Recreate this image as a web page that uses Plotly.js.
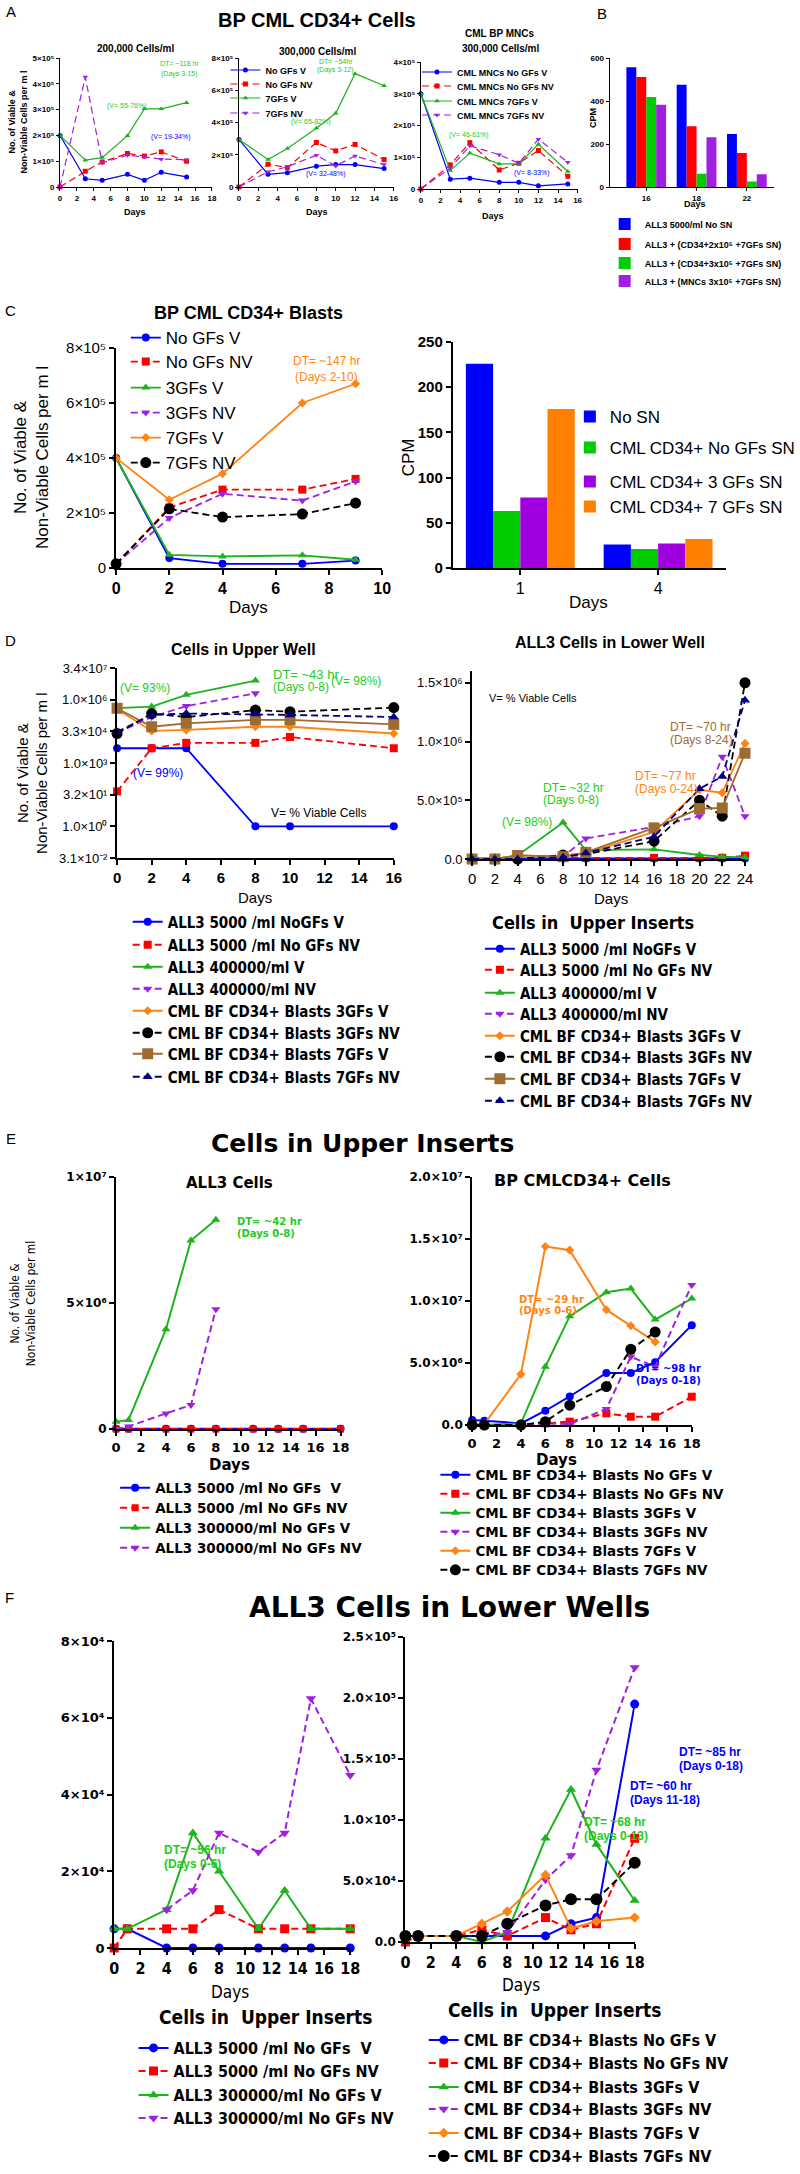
<!DOCTYPE html>
<html><head><meta charset="utf-8">
<script src="https://cdn.plot.ly/plotly-3.0.1.min.js"></script>
<style>html,body{margin:0;padding:0;background:#fff}#chart{width:800px;height:2174px}</style>
</head><body><div id="chart"></div>
<script>
// ================= DATA =================
// Panel A
const daysA = [0,3,5,8,10,12,15];
const a1NoGFsV  = [200000, 32000, 26000, 49000, 26000, 57000, 39000];
const a1NoGFsNV = [0, 61000, 97000, 130000, 120000, 136000, 100000];
const a1GF7V    = [200000, 104000, 114000, 199000, 303000, 303000, 327000];
const a1GF7NV   = [0, 426000, 94000, 123000, 117000, 108000, 106000];
const a2NoGFsV  = [295000, 79000, 89000, 129000, 139000, 139000, 114000];
const a2NoGFsNV = [0, 141000, 120000, 276000, 224000, 264000, 170000];
const a2GF7V    = [295000, 170000, 239000, 364000, 457000, 703000, 628000];
const a2GF7NV   = [0, 94000, 125000, 197000, 131000, 193000, 139000];
const a3NoGFsV  = [300000, 31000, 34000, 21000, 21000, 10000, 16000];
const a3NoGFsNV = [0, 76000, 146000, 60000, 81000, 121000, 40000];
const a3GF7V    = [300000, 58000, 113000, 79000, 79000, 141000, 55000];
const a3GF7NV   = [0, 66000, 136000, 108000, 81000, 157000, 84000];
const namesA2 = ['No GFs V','No GFs NV','7GFs V','7GFs NV'];
const namesA3 = ['CML MNCs No GFs V','CML MNCs No GFs NV','CML MNCs 7GFs V','CML MNCs 7GFs NV'];
// Panel B
const catsB = ['16','18','22'];
const bNoSN   = [557, 476, 246];
const bCD34x2 = [512, 282, 158];
const bCD34x3 = [419, 62, 26];
const bMNCx3  = [383, 231, 59];
const namesB = ['ALL3 5000/ml No SN','ALL3 + (CD34+2x10⁵ +7GFs SN)','ALL3 + (CD34+3x10⁵ +7GFs SN)','ALL3 + (MNCs 3x10⁵ +7GFs SN)'];
// Panel C
const daysC = [0,2,4,7,9];
const cNoGFsV  = [400000, 36000, 15000, 15000, 27000];
const cNoGFsNV = [15000, 220000, 285000, 285000, 324000];
const cGF3V    = [400000, 48000, 42000, 46000, 30000];
const cGF3NV   = [15000, 182000, 270000, 245000, 315000];
const cGF7V    = [400000, 248000, 343000, 600000, 670000];
const cGF7NV   = [15000, 215000, 185000, 196000, 236000];
const namesC1 = ['No GFs V','No GFs NV','3GFs V','3GFs NV','7GFs V','7GFs NV'];
const catsC2 = ['1','4'];
const c2NoSN  = [226, 26];
const c2NoGFs = [63, 21];
const c2GF3   = [78, 27];
const c2GF7   = [176, 32];
const namesC2 = ['No SN','CML CD34+ No GFs SN','CML CD34+ 3 GFs SN','CML CD34+ 7 GFs SN'];
// Panel D
const daysD1 = [0,2,4,8,10,16];
const daysD1b = [0,2,4,8];
const d1A5000V  = [5000, 5000, 5000, 1, 1, 1];
const d1A5000NV = [45, 5000, 9000, 9000, 17000, 5000];
const d1A400kV  = [400000, 470000, 1700000, 8000000];
const d1A400kNV = [27000, 150000, 500000, 2000000];
const d1GF3V    = [350000, 33000, 37000, 52000, 52000, 25000];
const d1GF3NV   = [25000, 220000, 150000, 320000, 270000, 420000];
const d1GF7V    = [390000, 52000, 76000, 110000, 110000, 68000];
const d1GF7NV   = [30000, 190000, 220000, 210000, 190000, 150000];
const daysD2 = [0,2,4,8,10,16,20,22,24];
const d2A5000V  = [5000, 5000, 5000, 5000, 5000, 5000, 5000, 5000, 5000];
const d2A5000NV = [0, 0, 0, 20000, 10000, 10000, 10000, 10000, 28000];
const d2A400kV  = [0, 0, 30000, 310000, 76000, 82000, 34000, 20000, 14000];
const d2A400kNV = [0, 0, 0, 20000, 175000, 273000, 364000, 871000, 364000];
const d2GF3V    = [0, 0, 30000, 20000, 48000, 231000, 589000, 564000, 984000];
const d2GF3NV   = [0, 0, 0, 34000, 40000, 152000, 500000, 364000, 1500000];
const d2GF7V    = [0, 0, 30000, 20000, 56000, 265000, 429000, 434000, 900000];
const d2GF7NV   = [0, 0, 0, 15000, 50000, 190000, 598000, 702000, 1350000];
const namesD = ['ALL3 5000 /ml NoGFs V','ALL3 5000 /ml No GFs NV','ALL3 400000/ml V','ALL3 400000/ml NV','CML BF CD34+ Blasts 3GFs V','CML BF CD34+ Blasts 3GFs NV','CML BF CD34+ Blasts 7GFs V','CML BF CD34+ Blasts 7GFs NV'];
// Panel E
const daysE = [0,1,4,6,8,11,13,15,18];
const daysE8 = [0,1,4,6,8];
const daysE15 = [0,1,4,6,8,11,13,15];
const e1A5000V  = [5000, 5000, 5000, 5000, 5000, 5000, 5000, 5000, 5000];
const e1A5000NV = [0, 0, 0, 0, 0, 0, 0, 0, 0];
const e1A300kV  = [290000, 360000, 3960000, 7480000, 8300000];
const e1A300kNV = [0, 100000, 620000, 950000, 4750000];
const e2NoGFsV  = [400000, 350000, 130000, 1150000, 2300000, 4200000, 4200000, 5070000, 8050000];
const e2NoGFsNV = [0, 0, 0, 130000, 270000, 940000, 670000, 670000, 2280000];
const e2GF3V    = [0, 0, 130000, 4700000, 8780000, 10700000, 11000000, 8500000, 10200000];
const e2GF3NV   = [0, 0, 0, 130000, 80000, 1300000, 5500000, 4700000, 11300000];
const e2GF7V    = [0, 80000, 4100000, 14400000, 14100000, 9300000, 8000000, 6700000];
const e2GF7NV   = [0, 0, 0, 270000, 1600000, 3100000, 6100000, 7500000];
const namesEF1 = ['ALL3 5000 /ml No GFs  V','ALL3 5000 /ml No GFs NV','ALL3 300000/ml No GFs V','ALL3 300000/ml No GFs NV'];
const namesEF2 = ['CML BF CD34+ Blasts No GFs V','CML BF CD34+ Blasts No GFs NV','CML BF CD34+ Blasts 3GFs V','CML BF CD34+ Blasts 3GFs NV','CML BF CD34+ Blasts 7GFs V','CML BF CD34+ Blasts 7GFs NV'];
// Panel F
const daysF = [0,1,4,6,8,11,13,15,18];
const daysF4 = [4,6,8,11,13,15,18];
const f1A5000V  = [5000, 5000, 0, 0, 0, 0, 0, 0, 0];
const f1A5000NV = [0, 5000, 5000, 5000, 10000, 5000, 5000, 5000, 5000];
const f1A300kV  = [5000, 5000, 10000, 30000, 20000, 5000, 15000, 5000, 5000];
const f1A300kNV = [10000, 15000, 30000, 25000, 30000, 65000, 45000];
const f2NoGFsV  = [5000, 5000, 5000, 5000, 5000, 5000, 15000, 20000, 195000];
const f2NoGFsNV = [0, 5000, 5000, 10000, 5000, 20000, 10000, 15000, 85000];
const f2GF3V    = [5000, 5000, 5000, 0, 8000, 85000, 125000, 80000, 34000];
const f2GF3NV   = [5000, 5000, 5000, 5000, 8000, 51000, 71000, 141000, 225000];
const f2GF7V    = [5000, 5000, 5000, 15000, 25000, 55000, 11000, 17000, 20000];
const f2GF7NV   = [5000, 5000, 5000, 5000, 15000, 30000, 35000, 35000, 65000];
// Tick labels
const tvA1 = [0,1e5,2e5,3e5,4e5,5e5];
const tlA1 = ['0','1×10⁵','2×10⁵','3×10⁵','4×10⁵','5×10⁵'];
const tvA2 = [0,2e5,4e5,6e5,8e5];
const tlA2 = ['0','2×10⁵','4×10⁵','6×10⁵','8×10⁵'];
const tvA3 = [0,1e5,2e5,3e5,4e5];
const tlA3 = ['0','1×10⁵','2×10⁵','3×10⁵','4×10⁵'];
const tvC1 = [0,2e5,4e5,6e5,8e5];
const tlC1 = ['0','2×10⁵','4×10⁵','6×10⁵','8×10⁵'];
const tvD1 = [Math.pow(10,-1.5),1,Math.pow(10,1.5),1e3,Math.pow(10,4.5),1e6,Math.pow(10,7.5)];
const tlD1 = ['3.1×10⁻²','1.0×10⁰','3.2×10¹','1.0×10³','3.3×10⁴','1.0×10⁶','3.4×10⁷'];
const tvD2 = [0,5e5,1e6,1.5e6];
const tlD2 = ['0.0','5.0×10⁵','1.0×10⁶','1.5×10⁶'];
const tvE1 = [0,5e6,1e7];
const tlE1 = ['0','5×10⁶','1×10⁷'];
const tvE2 = [0,5e6,1e7,1.5e7,2e7];
const tlE2 = ['0.0','5.0×10⁶','1.0×10⁷','1.5×10⁷','2.0×10⁷'];
const tvF1 = [0,2e4,4e4,6e4,8e4];
const tlF1 = ['0','2×10⁴','4×10⁴','6×10⁴','8×10⁴'];
const tvF2 = [0,5e4,1e5,1.5e5,2e5,2.5e5];
const tlF2 = ['0.0','5.0×10⁴','1.0×10⁵','1.5×10⁵','2.0×10⁵','2.5×10⁵'];

// ================= BUILD =================
const W = 800, H = 2174;
const FB = 'Liberation Sans, Arial, sans-serif';
const FN = 'Liberation Sans Narrow, DejaVu Sans Condensed, Liberation Sans, sans-serif';
const FK = 'DejaVu Sans, Liberation Sans, sans-serif';
const COL = {blue:'#0000FF', red:'#FF0000', green:'#1DB31D', purple:'#A020E0', orange:'#FF8411', black:'#000000', brown:'#9E6B30', navy:'#000080'};
const DASH = '7px,4px';

const layout = {width:W, height:H, margin:{l:0,r:0,t:0,b:0}, paper_bgcolor:'#fff', plot_bgcolor:'rgba(0,0,0,0)', showlegend:true, bargap:0.21, bargroupgap:0, annotations:[]};
const traces = [];
let nLeg = 0;
function L(textX, y, font){
  nLeg++;
  const key = nLeg === 1 ? 'legend' : 'legend' + nLeg;
  layout[key] = {x:(textX-40)/W, y:1-y/H, xanchor:'left', yanchor:'middle', bgcolor:'rgba(0,0,0,0)', borderwidth:0, font:font, itemclick:false, itemdoubleclick:false};
  return key;
}
function fnt(f,s,b){ return {family:f, size:s, color:'#000', weight:b?'bold':'normal'}; }
function S(xa, ya, xs, ys, name, c, sym, dash, size, w, leg){
  const t = {type:'scatter', mode:'lines+markers', x:xs, y:ys, name:name, xaxis:xa, yaxis:ya, cliponaxis:false,
    line:{color:COL[c], width:w, dash:dash?DASH:'solid'}, marker:{color:COL[c], symbol:sym, size:size, line:{width:0}},
    showlegend:!!leg};
  if(leg) t.legend = leg;
  traces.push(t);
}
function B(xa, ya, xs, ys, name, color, leg){
  traces.push({type:'bar', x:xs, y:ys, name:name, xaxis:xa, yaxis:ya, marker:{color:color, line:{width:0}}, legend:leg, showlegend:true});
}
function XA(x0,x1,anchor,o){ return Object.assign({domain:[x0/W,x1/W], anchor:anchor, showline:true, linecolor:'#000', linewidth:2, ticks:'outside', ticklen:5, tickwidth:2, tickcolor:'#000', showgrid:false, zeroline:false, fixedrange:true, tickfont:fnt(FB,14,true)}, o); }
function YA(yt,yb,anchor,o){ return Object.assign({domain:[1-yb/H,1-yt/H], anchor:anchor, showline:true, linecolor:'#000', linewidth:2, ticks:'outside', ticklen:5, tickwidth:2, tickcolor:'#000', showgrid:false, zeroline:false, fixedrange:true, tickfont:fnt(FB,13,false)}, o); }
function T(x,y,text,size,o){
  o = o || {};
  layout.annotations.push({xref:'paper', yref:'paper', x:x/W, y:1-y/H, text:text, showarrow:false, xanchor:o.a||'center', yanchor:'middle', textangle:o.r||0,
    font:{family:o.f||FB, size:size, color:o.c||'#000', weight:o.b?'bold':'normal'}});
}
const lin = (r,d)=>({range:r, tickmode:'linear', tick0:0, dtick:d});
const thin = {linewidth:1, tickwidth:1, ticklen:3, tickfont:fnt(FB,8,true)};

// ---- Axes ----
layout.xaxis   = XA(62,219,'y',  Object.assign({}, thin, lin([0,18],2)));
layout.yaxis   = YA(58,187,'x',  Object.assign({}, thin, {range:[0,5e5], tickmode:'array', tickvals:tvA1, ticktext:tlA1}));
layout.xaxis2  = XA(247,407,'y2', Object.assign({}, thin, lin([0,16],2)));
layout.yaxis2  = YA(58,187,'x2', Object.assign({}, thin, {range:[0,8e5], tickmode:'array', tickvals:tvA2, ticktext:tlA2}));
layout.xaxis3  = XA(435,597,'y3', Object.assign({}, thin, lin([0,16],2)));
layout.yaxis3  = YA(62,189,'x3', Object.assign({}, thin, {range:[0,4e5], tickmode:'array', tickvals:tvA3, ticktext:tlA3}));
layout.xaxis4  = XA(630,800,'y4', Object.assign({}, thin, {type:'category', range:[-0.73,2.54]}));
layout.yaxis4  = YA(58,187,'x4', Object.assign({}, thin, {range:[0,600], tickmode:'array', tickvals:[0,200,400,600]}));
layout.xaxis5  = XA(120,395,'y5', Object.assign({tickfont:fnt(FB,16,true)}, lin([0,10],2)));
layout.yaxis5  = YA(348,568,'x5', {range:[0,8e5], tickmode:'array', tickvals:tvC1, ticktext:tlC1, tickfont:fnt(FB,15,false)});
layout.xaxis6  = XA(468,750,'y6', {type:'category', range:[-0.49,1.49], tickfont:fnt(FB,16,false)});
layout.yaxis6  = YA(342,568,'x6', {range:[0,250], tickmode:'linear', tick0:0, dtick:50, tickfont:fnt(FB,15,true)});
layout.xaxis7  = XA(121,407,'y7', Object.assign({tickfont:fnt(FB,15,true)}, lin([0,16],2)));
layout.yaxis7  = YA(668,858,'x7', {type:'log', range:[-1.5,7.5], tickmode:'array', tickvals:tvD1, ticktext:tlD1, tickfont:fnt(FB,13,false)});
layout.xaxis8  = XA(488,770,'y8', Object.assign({tickfont:fnt(FB,15,false)}, lin([0,24],2)));
layout.yaxis8  = YA(671,859,'x8', {range:[0,1.6e6], tickmode:'array', tickvals:tvD2, ticktext:tlD2, tickfont:fnt(FB,13,false)});
layout.xaxis9  = XA(120,352,'y9', Object.assign({tickfont:fnt(FK,13,true)}, lin([0,18],2)));
layout.yaxis9  = YA(1177,1429,'x9', {range:[0,1e7], tickmode:'array', tickvals:tvE1, ticktext:tlE1, tickfont:fnt(FK,12,true)});
layout.xaxis10 = XA(488,715,'y10', Object.assign({tickfont:fnt(FK,13,true)}, lin([0,18],2)));
layout.yaxis10 = YA(1177,1425,'x10', {range:[0,2e7], tickmode:'array', tickvals:tvE2, ticktext:tlE2, tickfont:fnt(FK,12,true)});
layout.xaxis11 = XA(118,362,'y11', Object.assign({tickfont:fnt(FN,16,true)}, lin([0,18],2)));
layout.yaxis11 = YA(1641,1948,'x11', {range:[0,8e4], tickmode:'array', tickvals:tvF1, ticktext:tlF1, tickfont:fnt(FK,13,true)});
layout.xaxis12 = XA(419,656,'y12', Object.assign({tickfont:fnt(FN,16,true)}, lin([0,18],2)));
layout.yaxis12 = YA(1637,1942,'x12', {range:[0,2.5e5], tickmode:'array', tickvals:tvF2, ticktext:tlF2, tickfont:fnt(FK,12,true)});

// ---- Panel A traces ----
const fA = fnt(FB,9,true);
S('x','y',daysA,a1NoGFsV,namesA2[0],'blue','circle',false,5,1.2,null);
S('x','y',daysA,a1NoGFsNV,namesA2[1],'red','square',true,5,1.2,null);
S('x','y',daysA,a1GF7V,namesA2[2],'green','triangle-up',false,5,1.2,null);
S('x','y',daysA,a1GF7NV,namesA2[3],'purple','triangle-down',true,5,1.2,null);
const yA2 = [70,84,98,113];
S('x2','y2',daysA,a2NoGFsV,namesA2[0],'blue','circle',false,5,1.2,L(273,yA2[0],fA));
S('x2','y2',daysA,a2NoGFsNV,namesA2[1],'red','square',true,5,1.2,L(273,yA2[1],fA));
S('x2','y2',daysA,a2GF7V,namesA2[2],'green','triangle-up',false,5,1.2,L(273,yA2[2],fA));
S('x2','y2',daysA,a2GF7NV,namesA2[3],'purple','triangle-down',true,5,1.2,L(273,yA2[3],fA));
const yA3 = [72,86,101,115];
S('x3','y3',daysA,a3NoGFsV,namesA3[0],'blue','circle',false,5,1.2,L(471,yA3[0],fA));
S('x3','y3',daysA,a3NoGFsNV,namesA3[1],'red','square',true,5,1.2,L(471,yA3[1],fA));
S('x3','y3',daysA,a3GF7V,namesA3[2],'green','triangle-up',false,5,1.2,L(471,yA3[2],fA));
S('x3','y3',daysA,a3GF7NV,namesA3[3],'purple','triangle-down',true,5,1.2,L(471,yA3[3],fA));

// ---- Panel B ----
const fB = fnt(FB,9,true);
B('x4','y4',catsB,bNoSN,namesB[0],'#0000FF',L(665,224,fB));
B('x4','y4',catsB,bCD34x2,namesB[1],'#FF0000',L(665,244,fB));
B('x4','y4',catsB,bCD34x3,namesB[2],'#00CC00',L(665,263,fB));
B('x4','y4',catsB,bMNCx3,namesB[3],'#A020E0',L(665,281,fB));

// ---- Panel C ----
const fC = fnt(FB,17,false);
const yC1 = [338,362,388,413,438,463];
S('x5','y5',daysC,cNoGFsV,namesC1[0],'blue','circle',false,8,1.8,L(170,yC1[0],fC));
S('x5','y5',daysC,cNoGFsNV,namesC1[1],'red','square',true,8,1.8,L(170,yC1[1],fC));
S('x5','y5',daysC,cGF3V,namesC1[2],'green','triangle-up',false,8,1.8,L(170,yC1[2],fC));
S('x5','y5',daysC,cGF3NV,namesC1[3],'purple','triangle-down',true,8,1.8,L(170,yC1[3],fC));
S('x5','y5',daysC,cGF7V,namesC1[4],'orange','diamond',false,7,1.8,L(170,yC1[4],fC));
S('x5','y5',daysC,cGF7NV,namesC1[5],'black','circle',true,11,1.8,L(170,yC1[5],fC));
const yC2 = [417,448,482,507];
B('x6','y6',catsC2,c2NoSN,namesC2[0],'#0000FF',L(629,yC2[0],fC));
B('x6','y6',catsC2,c2NoGFs,namesC2[1],'#00CC00',L(629,yC2[1],fC));
B('x6','y6',catsC2,c2GF3,namesC2[2],'#A000E0',L(629,yC2[2],fC));
B('x6','y6',catsC2,c2GF7,namesC2[3],'#FF8000',L(629,yC2[3],fC));

// ---- Panel D ----
const fD = fnt(FN,15,true);
const yD1 = [922,945,967,989,1011,1033,1054,1077];
S('x7','y7',daysD1,d1A5000V,namesD[0],'blue','circle',false,8,1.8,L(172,yD1[0],fD));
S('x7','y7',daysD1,d1A5000NV,namesD[1],'red','square',true,8,1.8,L(172,yD1[1],fD));
S('x7','y7',daysD1b,d1A400kV,namesD[2],'green','triangle-up',false,8,1.8,L(172,yD1[2],fD));
S('x7','y7',daysD1b,d1A400kNV,namesD[3],'purple','triangle-down',true,8,1.8,L(172,yD1[3],fD));
S('x7','y7',daysD1,d1GF3V,namesD[4],'orange','diamond',false,7,1.8,L(172,yD1[4],fD));
S('x7','y7',daysD1,d1GF3NV,namesD[5],'black','circle',true,11,1.8,L(172,yD1[5],fD));
S('x7','y7',daysD1,d1GF7V,namesD[6],'brown','square',false,11,1.8,L(172,yD1[6],fD));
S('x7','y7',daysD1,d1GF7NV,namesD[7],'navy','triangle-up',true,9,1.8,L(172,yD1[7],fD));
const yD2 = [949,970,993,1014,1036,1057,1079,1101];
S('x8','y8',daysD2,d2A5000V,namesD[0],'blue','circle',false,8,1.8,L(536,yD2[0],fD));
S('x8','y8',daysD2,d2A5000NV,namesD[1],'red','square',true,8,1.8,L(536,yD2[1],fD));
S('x8','y8',daysD2,d2A400kV,namesD[2],'green','triangle-up',false,8,1.8,L(536,yD2[2],fD));
S('x8','y8',daysD2,d2A400kNV,namesD[3],'purple','triangle-down',true,8,1.8,L(536,yD2[3],fD));
S('x8','y8',daysD2,d2GF3V,namesD[4],'orange','diamond',false,7,1.8,L(536,yD2[4],fD));
S('x8','y8',daysD2,d2GF3NV,namesD[5],'black','circle',true,11,1.8,L(536,yD2[5],fD));
S('x8','y8',daysD2,d2GF7V,namesD[6],'brown','square',false,11,1.8,L(536,yD2[6],fD));
S('x8','y8',daysD2,d2GF7NV,namesD[7],'navy','triangle-up',true,9,1.8,L(536,yD2[7],fD));

// ---- Panel E ----
const fE = fnt(FK,13.5,true);
const yE1 = [1488,1508,1528,1548];
S('x9','y9',daysE,e1A5000V,namesEF1[0],'blue','circle',false,8,2,L(159,yE1[0],fE));
S('x9','y9',daysE,e1A5000NV,namesEF1[1],'red','square',true,7,2,L(159,yE1[1],fE));
S('x9','y9',daysE8,e1A300kV,namesEF1[2],'green','triangle-up',false,8,2,L(159,yE1[2],fE));
S('x9','y9',daysE8,e1A300kNV,namesEF1[3],'purple','triangle-down',true,8,2,L(159,yE1[3],fE));
const yE2 = [1475,1494,1513,1532,1551,1570];
S('x10','y10',daysE,e2NoGFsV,namesEF2[0],'blue','circle',false,8,2,L(490,yE2[0],fE));
S('x10','y10',daysE,e2NoGFsNV,namesEF2[1],'red','square',true,8,2,L(490,yE2[1],fE));
S('x10','y10',daysE,e2GF3V,namesEF2[2],'green','triangle-up',false,8,2,L(490,yE2[2],fE));
S('x10','y10',daysE,e2GF3NV,namesEF2[3],'purple','triangle-down',true,8,2,L(490,yE2[3],fE));
S('x10','y10',daysE15,e2GF7V,namesEF2[4],'orange','diamond',false,7,2,L(490,yE2[4],fE));
S('x10','y10',daysE15,e2GF7NV,namesEF2[5],'black','circle',true,11,2,L(490,yE2[5],fE));

// ---- Panel F ----
const fF = fnt(FN,16,true);
const yF1 = [2048,2071,2095,2118];
S('x11','y11',daysF,f1A5000V,namesEF1[0],'blue','circle',false,9,2,L(178,yF1[0],fF));
S('x11','y11',daysF,f1A5000NV,namesEF1[1],'red','square',true,9,2,L(178,yF1[1],fF));
S('x11','y11',daysF,f1A300kV,namesEF1[2],'green','triangle-up',false,9,2,L(178,yF1[2],fF));
S('x11','y11',daysF4,f1A300kNV,namesEF1[3],'purple','triangle-down',true,9,2,L(178,yF1[3],fF));
const yF2 = [2040,2063,2087,2109,2133,2156];
S('x12','y12',daysF,f2NoGFsV,namesEF2[0],'blue','circle',false,9,2,L(478,yF2[0],fF));
S('x12','y12',daysF,f2NoGFsNV,namesEF2[1],'red','square',true,9,2,L(478,yF2[1],fF));
S('x12','y12',daysF,f2GF3V,namesEF2[2],'green','triangle-up',false,9,2,L(478,yF2[2],fF));
S('x12','y12',daysF,f2GF3NV,namesEF2[3],'purple','triangle-down',true,9,2,L(478,yF2[3],fF));
S('x12','y12',daysF,f2GF7V,namesEF2[4],'orange','diamond',false,8,2,L(478,yF2[4],fF));
S('x12','y12',daysF,f2GF7NV,namesEF2[5],'black','circle',true,12,2,L(478,yF2[5],fF));

// ---- Text ----
const G = '#22CC22';
// panel letters
T(11,12,'A',15); T(622,13,'B',15); T(11,310,'C',15); T(11,640,'D',15); T(11,1138,'E',15); T(10,1597,'F',15);
// Panel A
T(328,20,'BP CML CD34+ Cells',20,{b:true});
T(140,48,'200,000 Cells/ml',10,{b:true});
T(328,52,'300,000 Cells/ml',10,{b:true});
T(517,33,'CML BP MNCs',10,{b:true}); T(517,48,'300,000 Cells/ml',10,{b:true});
T(19,122,'No. of Viable &<br>Non-Viable Cells per m l',9,{b:true,r:-90});
T(140,212,'Days',9,{b:true}); T(328,212,'Days',9,{b:true}); T(510,216,'Days',9,{b:true});
T(186,63,'DT= ~118 hr',7,{c:G}); T(186,74,'(Days 3-15)',7,{c:G});
T(131,106,'(V= 55-76%)',7,{c:G}); T(177,137,'(V= 19-34%)',7,{c:'#0000FF'});
T(347,62,'DT= ~54hr',7,{c:G}); T(347,70,'(Days 3-12)',7,{c:G});
T(321,122,'(V= 65-82%)',7,{c:G}); T(337,174,'(V= 32-48%)',7,{c:'#0000FF'});
T(485,135,'(V= 46-61%)',7,{c:G}); T(550,173,'(V= 8-33%)',7,{c:'#0000FF'});
// Panel B
T(613,118,'CPM',9,{b:true,r:-90}); T(718,204,'Days',9,{b:true});
// Panel C
T(257,313,'BP CML CD34+ Blasts',18,{b:true});
T(33,457,'No. of Viable &<br>Non-Viable Cells per m l',17,{r:-90});
T(257,607,'Days',17); T(608,602,'Days',17); T(423,457,'CPM',17,{r:-90});
T(337,361,'DT= ~147 hr',12,{c:'#FF8411'}); T(337,377,'(Days 2-10)',12,{c:'#FF8411'});
// Panel D
T(252,649,'Cells in Upper Well',16,{b:true});
T(630,642,'ALL3 Cells in Lower Well',16,{b:true});
T(33,773,'No. of Viable &<br>Non-Viable Cells per m l',15,{r:-90});
T(264,897,'Days',15); T(632,898,'Days',15);
T(613,922,'Cells in  Upper Inserts',18,{f:FN,b:true});
T(150,688,'(V= 93%)',12,{c:G});
T(280,674,'DT= ~43 hr',13,{c:G,a:'left'}); T(280,687,'(Days 0-8)',12,{c:G,a:'left'});
T(368,681,'(V= 98%)',12,{c:G});
T(163,773,'(V= 99%)',12,{c:'#0000FF'});
T(278,813,'V= % Viable Cells',12,{a:'left'});
T(503,698,'V= % Viable Cells',11,{a:'left'});
T(690,727,'DT= ~70 hr',12,{c:'#9E6B30',a:'left'}); T(690,740,'(Days 8-24)',12,{c:'#9E6B30',a:'left'});
T(654,776,'DT= ~77 hr',12,{c:'#FF8411',a:'left'}); T(654,789,'(Days 0-24)',12,{c:'#FF8411',a:'left'});
T(559,788,'DT= ~32 hr',12,{c:G,a:'left'}); T(559,800,'(Days 0-8)',12,{c:G,a:'left'});
T(517,822,'(V= 98%)',12,{c:G,a:'left'});
// Panel E
T(375,1143,'Cells in Upper Inserts',25,{f:FK,b:true});
T(237,1183,'ALL3 Cells',15,{f:FK,b:true});
T(602,1180,'BP CMLCD34+ Cells',16,{f:FK,b:true});
T(24,1303,'No. of Viable &<br>Non-Viable Cells per ml',12,{f:FN,r:-90});
T(237,1465,'Days',15,{f:FK,b:true}); T(575,1460,'Days',15,{f:FK,b:true});
T(243,1221,'DT= ~42 hr',10,{f:FK,c:G,b:true,a:'left'}); T(243,1233,'(Days 0-8)',10,{f:FK,c:G,b:true,a:'left'});
T(534,1299,'DT= ~29 hr',10,{f:FK,c:'#FF8411',b:true,a:'left'}); T(534,1310,'(Days 0-6)',10,{f:FK,c:'#FF8411',b:true,a:'left'});
T(655,1368,'DT= ~98 hr',10,{f:FK,c:'#0000FF',b:true,a:'left'}); T(655,1380,'(Days 0-18)',10,{f:FK,c:'#0000FF',b:true,a:'left'});
// Panel F
T(465,1607,'ALL3 Cells in Lower Wells',28,{f:FK,b:true});
T(238,1992,'Days',17,{f:FN}); T(538,1985,'Days',17,{f:FN});
T(274,2017,'Cells in  Upper Inserts',19,{f:FN,b:true});
T(573,2010,'Cells in  Upper Inserts',19,{f:FN,b:true});
T(167,1850,'DT= ~56 hr',12,{c:G,b:true,a:'left'}); T(167,1864,'(Days 0-6)',12,{c:G,b:true,a:'left'});
T(700,1752,'DT= ~85 hr',12,{c:'#0000FF',b:true,a:'left'}); T(700,1766,'(Days 0-18)',12,{c:'#0000FF',b:true,a:'left'});
T(649,1786,'DT= ~60 hr',12,{c:'#0000FF',b:true,a:'left'}); T(649,1800,'(Days 11-18)',12,{c:'#0000FF',b:true,a:'left'});
T(602,1822,'DT= ~68 hr',12,{c:G,b:true,a:'left'}); T(602,1836,'(Days 0-13)',12,{c:G,b:true,a:'left'});

Plotly.newPlot('chart', traces, layout, {staticPlot:true, displayModeBar:false});
</script>
</body></html>
